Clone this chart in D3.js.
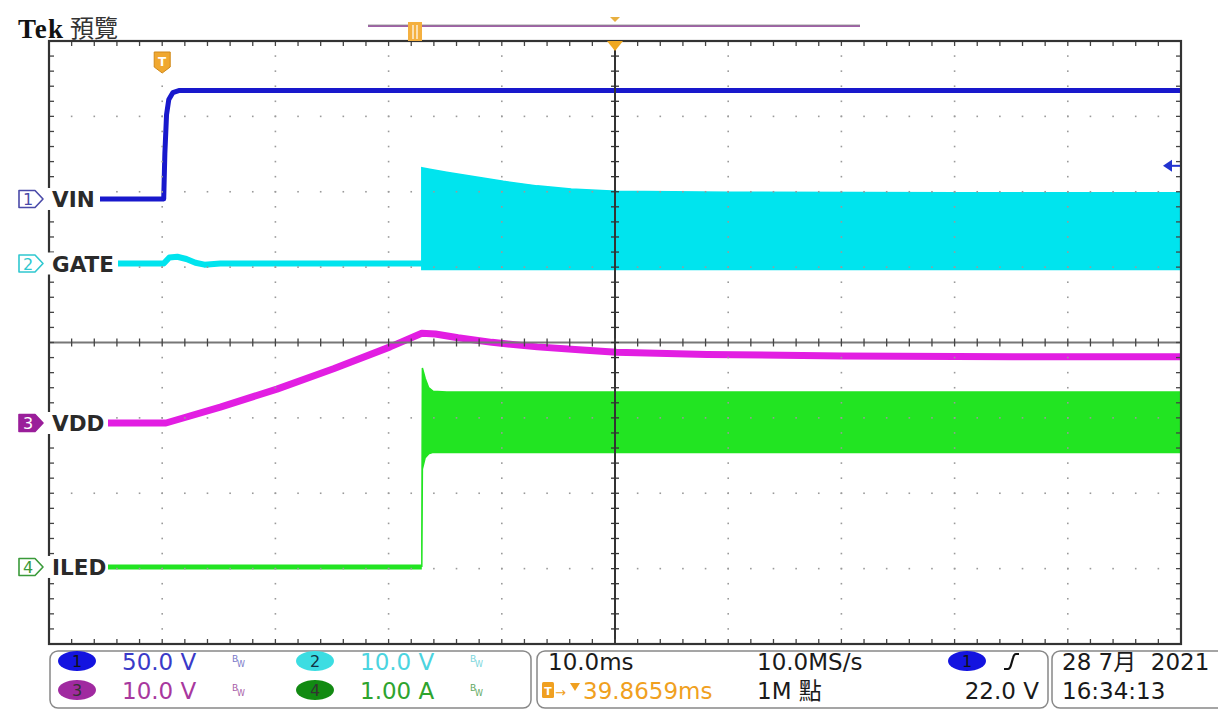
<!DOCTYPE html>
<html><head><meta charset="utf-8">
<script src="https://cdn.jsdelivr.net/npm/d3@7"></script>
<style>body{margin:0;background:#fff}svg{display:block}</style>
</head><body><svg id="c" width="1218" height="714"></svg>
<script>
// ---------------- data ----------------
const channelNames = ["VIN", "GATE", "VDD", "ILED"];
const channelNumbers = ["1", "2", "3", "4"];
const channelColors = ["#1818cc", "#00e4ee", "#e21ee2", "#22e422"];
const channelScales = [50, 10, 10, 1];            // units per division
const channelPositions = [1.904, 1.048, -1.068, -2.978]; // ground position, divisions
const channelScaleLabels = ["50.0 V", "10.0 V", "10.0 V", "1.00 A"];

const horizontalScaleMs = 10;
const triggerOffsetMs = 39.8659;
const triggerLevel = 22.0;

// CH1 VIN (V)
const vinT = [-10.1, 0, 0.1, 0.25, 0.45, 0.8, 1.4, 89.8];
const vinV = [0, 0, 30, 56, 66, 70.5, 72, 72];
// CH2 GATE (V) before switching
const gateT = [-10.1, 0, 0.5, 1.2, 2.0, 2.8, 3.6, 5, 22.8];
const gateV = [0, 0, 0.8, 0.9, 0.6, 0.1, -0.15, 0, 0];
// CH2 GATE switching envelope
const gateEnvT = [22.8, 23.5, 25, 27.5, 30, 33, 36, 40, 50, 70, 89.8];
const gateHigh = [12.7, 12.5, 12.1, 11.5, 10.9, 10.3, 9.9, 9.6, 9.45, 9.4, 9.4];
const gateLow  = [-0.8, -0.8, -0.8, -0.8, -0.8, -0.8, -0.8, -0.8, -0.8, -0.8, -0.8];
// CH3 VDD (V)
const vddT = [-10.1, 0.2, 5, 10, 15, 20, 22.8, 24, 26, 29, 33, 37, 40, 48, 60, 75, 89.8];
const vddV = [0, 0, 2.1, 4.5, 7.2, 10.1, 11.9, 11.8, 11.3, 10.7, 10.1, 9.7, 9.4, 9.1, 8.9, 8.8, 8.8];
// CH4 ILED (A)
const iledT = [-10.1, 22.8];
const iledV = [0, 0];
const iledEnvT = [22.8, 22.85, 23.1, 23.4, 23.8, 25, 89.8];
const iledHigh = [0.3, 2.64, 2.5, 2.38, 2.33, 2.32, 2.32];
const iledLow  = [0, 1.3, 1.45, 1.5, 1.52, 1.52, 1.52];

// status texts
const timebaseLabel = "10.0ms";
const sampleRateLabel = "10.0MS/s";
const recordLabel = "1M 點";
const triggerPosLabel = "39.8659ms";
const triggerLevelLabel = "22.0 V";
const dateLabel = "28 7月  2021";
const timeLabel = "16:34:13";
const titleMain = "Tek";
const titleSub = "預覽";

// ---------------- layout ----------------
const svg = d3.select("#c");
const L = 49, R = 1181, T = 41, B = 644;
const x = d3.scaleLinear().domain([triggerOffsetMs - 5 * horizontalScaleMs, triggerOffsetMs + 5 * horizontalScaleMs]).range([L, R]);
const y = d3.scaleLinear().domain([-4, 4]).range([B, T]);
const yc = (ch, v) => y(v / channelScales[ch] + channelPositions[ch]);
const zip = (a, b) => a.map((t, i) => [t, b[i]]);

svg.append("clipPath").attr("id", "pc").append("rect").attr("x", L).attr("y", T).attr("width", R - L).attr("height", B - T);
const gTr = svg.append("g").attr("clip-path", "url(#pc)");

function trace(ch, T_, V_, w) {
  gTr.append("path").datum(zip(T_, V_))
    .attr("d", d3.line().x(d => x(d[0])).y(d => yc(ch, d[1])))
    .attr("fill", "none").attr("stroke", channelColors[ch]).attr("stroke-width", w)
    .attr("stroke-linejoin", "round");
}
function envelope(ch, T_, hi, lo) {
  gTr.append("path").datum(T_.map((t, i) => [t, hi[i], lo[i]]))
    .attr("d", d3.area().x(d => x(d[0])).y0(d => yc(ch, d[2])).y1(d => yc(ch, d[1])))
    .attr("fill", channelColors[ch]).attr("stroke", channelColors[ch]).attr("stroke-width", 1.5);
}

trace(1, gateT, gateV, 6);
envelope(1, gateEnvT, gateHigh, gateLow);
trace(3, iledT, iledV, 5);
envelope(3, iledEnvT, iledHigh, iledLow);
trace(2, vddT, vddV, 7);
trace(0, vinT, vinV, 5);

// ---------------- graticule ----------------
const gG = svg.append("g");
const dx = (R - L) / 10, dy = (B - T) / 8;
for (let i = 1; i < 10; i++) {
  if (i === 5) continue;
  for (let k = 1; k < 40; k++) {
    gG.append("rect").attr("x", L + i * dx - 0.8).attr("y", T + k * dy / 5 - 0.8).attr("width", 1.6).attr("height", 1.6).attr("fill", "#9a9a9a");
  }
}
for (let j = 1; j < 8; j++) {
  if (j === 4) continue;
  for (let k = 1; k < 50; k++) {
    gG.append("rect").attr("x", L + k * dx / 5 - 0.8).attr("y", T + j * dy - 0.8).attr("width", 1.6).attr("height", 1.6).attr("fill", "#9a9a9a");
  }
}
const cy = T + 4 * dy, cx = L + 5 * dx;
gG.append("line").attr("x1", L).attr("x2", R).attr("y1", cy).attr("y2", cy).attr("stroke", "#777").attr("stroke-width", 2);
gG.append("line").attr("x1", cx).attr("x2", cx).attr("y1", T).attr("y2", B).attr("stroke", "#333").attr("stroke-width", 2);
for (let k = 1; k < 50; k++) {
  const xx = L + k * dx / 5;
  gG.append("line").attr("x1", xx).attr("x2", xx).attr("y1", cy - 4).attr("y2", cy + 4).attr("stroke", "#444").attr("stroke-width", 1.3);
  gG.append("line").attr("x1", xx).attr("x2", xx).attr("y1", T).attr("y2", T + 5).attr("stroke", "#444").attr("stroke-width", 1.3);
  gG.append("line").attr("x1", xx).attr("x2", xx).attr("y1", B - 5).attr("y2", B).attr("stroke", "#444").attr("stroke-width", 1.3);
}
for (let k = 1; k < 40; k++) {
  const yy = T + k * dy / 5;
  gG.append("line").attr("x1", cx - 4).attr("x2", cx + 4).attr("y1", yy).attr("y2", yy).attr("stroke", "#333").attr("stroke-width", 1.3);
  gG.append("line").attr("x1", L).attr("x2", L + 5).attr("y1", yy).attr("y2", yy).attr("stroke", "#444").attr("stroke-width", 1.3);
  gG.append("line").attr("x1", R - 5).attr("x2", R).attr("y1", yy).attr("y2", yy).attr("stroke", "#444").attr("stroke-width", 1.3);
}
gG.append("rect").attr("x", L).attr("y", T).attr("width", R - L).attr("height", B - T).attr("fill", "none").attr("stroke", "#333").attr("stroke-width", 2.2);

// ---------------- channel labels ----------------
const labelEnds = [100, 118, 108, 108];
const markStroke = ["#4a4aa8", "#30c8d0", "#9a1e9a", "#3a9a3a"];
channelNames.forEach((nm, ch) => {
  const gy = yc(ch, 0);
  svg.append("rect").attr("x", 16).attr("y", gy - 11).attr("width", labelEnds[ch] - 16).attr("height", 22).attr("fill", "#fff");
  const filled = ch === 2;
  svg.append("path")
    .attr("d", `M19,${gy - 8.5} H35 L43,${gy} L35,${gy + 8.5} H19 Z`)
    .attr("fill", filled ? "#9a1e9a" : "#fff")
    .attr("stroke", markStroke[ch]).attr("stroke-width", 1.6).attr("stroke-linejoin", "round");
  svg.append("text").attr("x", 28).attr("y", gy + 6).attr("text-anchor", "middle")
    .attr("font-family", "DejaVu Sans").attr("font-size", 16)
    .attr("fill", filled ? "#fff" : markStroke[ch]).text(channelNumbers[ch]);
  svg.append("text").attr("x", 52).attr("y", gy + 8)
    .attr("font-family", "DejaVu Sans").attr("font-weight", "bold").attr("font-size", 21.5)
    .attr("fill", "#2a2a2a").text(nm);
});

// trigger level arrow (ch1)
const ty = yc(0, triggerLevel);
svg.append("path").attr("d", `M1163,${ty} L1172,${ty - 6} L1172,${ty + 6} Z`).attr("fill", "#2233d0");
svg.append("line").attr("x1", 1171).attr("x2", 1180).attr("y1", ty).attr("y2", ty).attr("stroke", "#2233d0").attr("stroke-width", 2);

// trigger T marker
const tx = x(0) - 1.5;
svg.append("path").attr("d", `M${tx - 8},52 H${tx + 8} V67 L${tx},73 L${tx - 8},67 Z`).attr("fill", "#f0a830").attr("stroke", "#d08818");
svg.append("text").attr("x", tx).attr("y", 66).attr("text-anchor", "middle").attr("font-family", "DejaVu Sans").attr("font-weight", "bold").attr("font-size", 12).attr("fill", "#fff").text("T");

// expansion point marker
svg.append("path").attr("d", `M${cx - 8},${T} L${cx + 8},${T} L${cx},${T + 10} Z`).attr("fill", "#f0a820");

// ---------------- title & record bar ----------------
svg.append("text").attr("x", 18).attr("y", 38).attr("font-family", "Liberation Serif").attr("font-weight", "bold").attr("font-size", 27).attr("textLength", 45).attr("fill", "#111").text(titleMain);
svg.append("text").attr("x", 70).attr("y", 37).attr("font-family", "Noto Sans CJK TC").attr("font-size", 24).attr("fill", "#333").text(titleSub);
svg.append("line").attr("x1", 368).attr("x2", 860).attr("y1", 26).attr("y2", 26).attr("stroke", "#a060a8").attr("stroke-width", 2);
svg.append("line").attr("x1", 368).attr("x2", 860).attr("y1", 25).attr("y2", 25).attr("stroke", "#888").attr("stroke-width", 0.8);
svg.append("rect").attr("x", 408).attr("y", 22).attr("width", 14).attr("height", 19).attr("fill", "#f4b040");
svg.append("line").attr("x1", 413).attr("x2", 413).attr("y1", 25).attr("y2", 39).attr("stroke", "#fff").attr("stroke-width", 1.2);
svg.append("line").attr("x1", 417).attr("x2", 417).attr("y1", 25).attr("y2", 39).attr("stroke", "#fff").attr("stroke-width", 1.2);
svg.append("path").attr("d", "M610,17 L620,17 L615,22 Z").attr("fill", "#e8b040");

// ---------------- status bar ----------------
const font = "DejaVu Sans";
const fs = 23;
function box(x0, x1) {
  svg.append("rect").attr("x", x0).attr("y", 651).attr("width", x1 - x0).attr("height", 57).attr("rx", 8)
    .attr("fill", "#fff").attr("stroke", "#888").attr("stroke-width", 1.5);
}
box(50, 531); box(537, 1048); box(1052, 1226);

const r1 = 670, r2 = 699;
const ovalFill = ["#1414e0", "#3cdde2", "#a02aa0", "#128a12"];
const valColor = ["#3a3ac8", "#4cd4e0", "#a8389e", "#2ea42e"];
const bwColor = ["#7878c8", "#7ad6dc", "#a860a8", "#60a860"];
const slots = [[0, 77, r1], [1, 315, r1], [2, 77, r2], [3, 315, r2]];
slots.forEach(([ch, ox, oy]) => {
  svg.append("ellipse").attr("cx", ox).attr("cy", oy - 9).attr("rx", 19).attr("ry", 10).attr("fill", ovalFill[ch]);
  svg.append("text").attr("x", ox).attr("y", oy - 3).attr("text-anchor", "middle").attr("font-family", font).attr("font-size", 16)
    .attr("fill", ch === 0 ? "#111" : (ch === 1 ? "#134" : "#333")).text(channelNumbers[ch]);
  svg.append("text").attr("x", ox + 45).attr("y", oy).attr("font-family", font).attr("font-size", fs).attr("fill", valColor[ch]).text(channelScaleLabels[ch]);
  svg.append("text").attr("x", ox + 155).attr("y", oy - 8).attr("font-family", font).attr("font-size", 9).attr("fill", bwColor[ch]).text("B");
  svg.append("text").attr("x", ox + 160).attr("y", oy - 3).attr("font-family", font).attr("font-size", 8).attr("fill", bwColor[ch]).text("W");
});

svg.append("text").attr("x", 548).attr("y", r1).attr("font-family", font).attr("font-size", fs).attr("fill", "#1a1a1a").text(timebaseLabel);
svg.append("text").attr("x", 757).attr("y", r1).attr("font-family", font).attr("font-size", fs).attr("fill", "#1a1a1a").text(sampleRateLabel);
svg.append("text").attr("x", 757).attr("y", r2).attr("font-family", "DejaVu Sans, Noto Sans CJK TC").attr("font-size", fs).attr("fill", "#1a1a1a").text(recordLabel);
svg.append("ellipse").attr("cx", 967).attr("cy", r1 - 9).attr("rx", 19).attr("ry", 10).attr("fill", "#1414e0");
svg.append("text").attr("x", 967).attr("y", r1 - 3).attr("text-anchor", "middle").attr("font-family", font).attr("font-size", 16).attr("fill", "#111").text("1");
svg.append("path").attr("d", "M1004,669 L1008,669 Q1010,669 1011,665 L1013,658 Q1014,654 1016,654 L1019,654").attr("fill", "none").attr("stroke", "#111").attr("stroke-width", 2.2);
svg.append("text").attr("x", 1039).attr("y", r2).attr("text-anchor", "end").attr("font-family", font).attr("font-size", fs).attr("fill", "#1a1a1a").text(triggerLevelLabel);
// trigger position
svg.append("rect").attr("x", 542).attr("y", 682).attr("width", 12).attr("height", 16).attr("rx", 1.5).attr("fill", "#f0a020");
svg.append("text").attr("x", 548).attr("y", 695).attr("text-anchor", "middle").attr("font-family", font).attr("font-weight", "bold").attr("font-size", 11).attr("fill", "#fff").text("T");
svg.append("text").attr("x", 555).attr("y", 697).attr("font-family", font).attr("font-size", 13).attr("fill", "#f0a020").text("→");
svg.append("path").attr("d", "M570,683 L580,683 L575,691 Z").attr("fill", "#f0a020");
svg.append("text").attr("x", 583).attr("y", r2).attr("font-family", font).attr("font-size", fs).attr("fill", "#f0a020").text(triggerPosLabel);
// date
svg.append("text").attr("x", 1062).attr("y", r1).attr("font-family", "DejaVu Sans, Noto Sans CJK TC").attr("font-size", fs).attr("fill", "#1a1a1a").style("white-space", "pre").text(dateLabel);
svg.append("text").attr("x", 1062).attr("y", r2).attr("font-family", font).attr("font-size", fs).attr("fill", "#1a1a1a").text(timeLabel);
</script></body></html>
